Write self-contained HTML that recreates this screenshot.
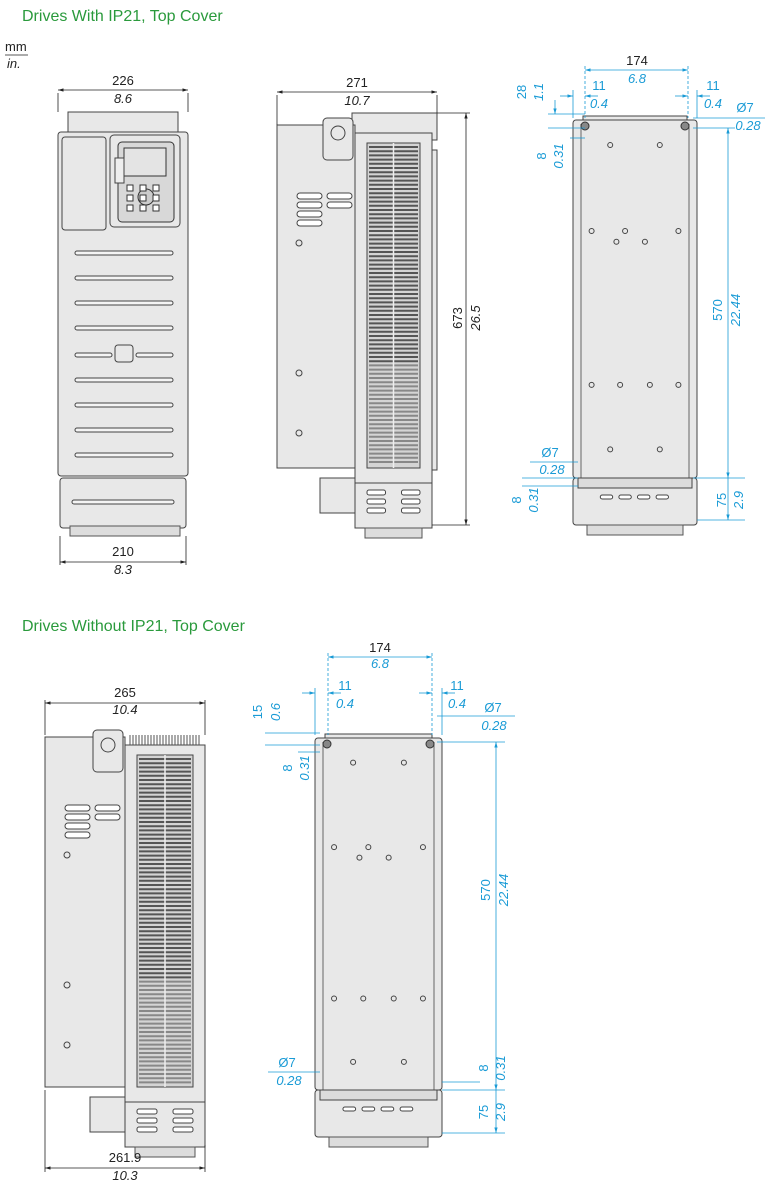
<!DOCTYPE html>
<html><head><meta charset="utf-8"><style>
html,body{margin:0;padding:0;background:#fff;}
svg{display:block;font-family:"Liberation Sans",sans-serif;}
.t{fill:#2a9a3c;font-size:16px;}
.d{fill:#222;font-size:13px;}
.b{fill:#1a9bd6;font-size:13px;}
.i{font-style:italic;}
.ln{stroke:#222;stroke-width:.8;fill:none;}
.bl{stroke:#1a9bd6;stroke-width:.8;fill:none;}
.p{fill:#e8e8e8;stroke:#444;stroke-width:1;}
.p2{fill:#dcdcdc;stroke:#444;stroke-width:1;}
.k{fill:none;stroke:#444;stroke-width:1;}
</style></head><body>
<svg id="s" width="770" height="1200" viewBox="0 0 770 1200">
<defs>
<marker id="a" viewBox="0 0 10 10" refX="10" refY="5" markerWidth="7" markerHeight="7" orient="auto-start-reverse"><path d="M0,2 L10,5 L0,8z" fill="#222"/></marker>
<marker id="ab" viewBox="0 0 10 10" refX="10" refY="5" markerWidth="7" markerHeight="7" orient="auto-start-reverse"><path d="M0,2 L10,5 L0,8z" fill="#1a9bd6"/></marker>
</defs>
<text class="t" x="22" y="21">Drives With IP21, Top Cover</text>
<text class="t" x="22" y="631">Drives Without IP21, Top Cover</text>
<text class="d" x="5" y="51">mm</text><line class="ln" x1="5" y1="55" x2="28" y2="55"/><text class="d i" x="7" y="68">in.</text>

<!-- FRONT VIEW -->
<rect class="p" x="68" y="112" width="110" height="24"/>
<rect class="p" x="58" y="132" width="130" height="344" rx="3"/>
<rect class="p" x="62" y="137" width="44" height="93" rx="3"/>
<rect class="p" x="110" y="135" width="70" height="92" rx="4"/>
<rect x="118" y="142" width="56" height="80" rx="4" fill="#d8d8d8" stroke="#333"/>
<rect x="124" y="148" width="42" height="28" fill="#e4e4e4" stroke="#333"/>
<circle cx="146" cy="197" r="8" fill="#ccc" stroke="#333"/>
<rect x="115" y="158" width="9" height="25" fill="#eee" stroke="#444"/>
<rect x="60" y="478" width="126" height="50" class="p" rx="3"/>
<rect x="115" y="345" width="18" height="17" rx="3" class="p"/>
<g id="frontslots"></g>
<rect x="70" y="526" width="110" height="10" fill="#ddd" stroke="#555"/>
<line class="ln" x1="58" y1="90" x2="188" y2="90" marker-start="url(#a)" marker-end="url(#a)"/>
<line class="ln" x1="58" y1="93" x2="58" y2="112"/><line class="ln" x1="188" y1="93" x2="188" y2="112"/>
<text class="d" x="123" y="85" text-anchor="middle">226</text><text class="d i" x="123" y="103" text-anchor="middle">8.6</text>
<line class="ln" x1="60" y1="562" x2="186" y2="562" marker-start="url(#a)" marker-end="url(#a)"/>
<line class="ln" x1="60" y1="536" x2="60" y2="565"/><line class="ln" x1="186" y1="536" x2="186" y2="565"/>
<text class="d" x="123" y="556" text-anchor="middle">210</text><text class="d i" x="123" y="574" text-anchor="middle">8.3</text>

<!-- SIDE VIEW 1 -->
<g id="side1"></g>
<line class="ln" x1="277" y1="92" x2="437" y2="92" marker-start="url(#a)" marker-end="url(#a)"/>
<line class="ln" x1="277" y1="95" x2="277" y2="125"/><line class="ln" x1="437" y1="95" x2="437" y2="113"/>
<text class="d" x="357" y="87" text-anchor="middle">271</text><text class="d i" x="357" y="105" text-anchor="middle">10.7</text>
<line class="ln" x1="466" y1="113" x2="466" y2="525" marker-start="url(#a)" marker-end="url(#a)"/>
<line class="ln" x1="437" y1="113" x2="470" y2="113"/><line class="ln" x1="432" y1="525" x2="470" y2="525"/>
<text class="d" transform="translate(462,318) rotate(-90)" text-anchor="middle">673</text>
<text class="d i" transform="translate(480,318) rotate(-90)" text-anchor="middle">26.5</text>

<!-- BACK VIEW 1 -->
<g id="back1"></g>
<line class="bl" x1="585" y1="70" x2="688" y2="70" marker-start="url(#ab)" marker-end="url(#ab)"/>
<line class="bl" x1="585" y1="66" x2="585" y2="118" stroke-dasharray="3,2"/><line class="bl" x1="688" y1="66" x2="688" y2="118" stroke-dasharray="3,2"/>
<text class="d" x="637" y="65" text-anchor="middle">174</text><text class="b i" x="637" y="83" text-anchor="middle">6.8</text>
<line class="bl" x1="560" y1="96" x2="573" y2="96" marker-end="url(#ab)"/><line class="bl" x1="598" y1="96" x2="585" y2="96" marker-end="url(#ab)"/>
<line class="bl" x1="573" y1="90" x2="573" y2="118"/>
<text class="b" x="599" y="90" text-anchor="middle">11</text><text class="b i" x="599" y="108" text-anchor="middle">0.4</text>
<line class="bl" x1="675" y1="96" x2="688" y2="96" marker-end="url(#ab)"/><line class="bl" x1="710" y1="96" x2="697" y2="96" marker-end="url(#ab)"/>
<line class="bl" x1="697" y1="90" x2="697" y2="118"/>
<text class="b" x="713" y="90" text-anchor="middle">11</text><text class="b i" x="713" y="108" text-anchor="middle">0.4</text>
<text class="b" transform="translate(526,92) rotate(-90)" text-anchor="middle">28</text><text class="b i" transform="translate(543,92) rotate(-90)" text-anchor="middle">1.1</text>
<line class="bl" x1="548" y1="114" x2="585" y2="114"/><line class="bl" x1="548" y1="128" x2="585" y2="128"/>
<line class="bl" x1="555" y1="100" x2="555" y2="114" marker-end="url(#ab)"/>
<text class="b" transform="translate(546,156) rotate(-90)" text-anchor="middle">8</text><text class="b i" transform="translate(563,156) rotate(-90)" text-anchor="middle">0.31</text>
<line class="bl" x1="570" y1="138" x2="585" y2="138"/>
<text class="b" x="745" y="112" text-anchor="middle">Ø7</text><line class="bl" x1="693" y1="118" x2="765" y2="118"/><text class="b i" x="748" y="130" text-anchor="middle">0.28</text>
<line class="bl" x1="728" y1="128" x2="728" y2="478" marker-start="url(#ab)" marker-end="url(#ab)"/>
<line class="bl" x1="693" y1="128" x2="735" y2="128"/><line class="bl" x1="693" y1="478" x2="745" y2="478"/>
<line class="bl" x1="728" y1="478" x2="728" y2="520" marker-end="url(#ab)"/><line class="bl" x1="697" y1="520" x2="745" y2="520"/>
<text class="b" transform="translate(722,310) rotate(-90)" text-anchor="middle">570</text><text class="b i" transform="translate(740,310) rotate(-90)" text-anchor="middle">22.44</text>
<text class="b" transform="translate(726,500) rotate(-90)" text-anchor="middle">75</text><text class="b i" transform="translate(743,500) rotate(-90)" text-anchor="middle">2.9</text>
<text class="b" x="550" y="457" text-anchor="middle">Ø7</text><line class="bl" x1="530" y1="462" x2="578" y2="462"/><text class="b i" x="552" y="474" text-anchor="middle">0.28</text>
<text class="b" transform="translate(521,500) rotate(-90)" text-anchor="middle">8</text><text class="b i" transform="translate(538,500) rotate(-90)" text-anchor="middle">0.31</text>
<line class="bl" x1="522" y1="478" x2="578" y2="478"/><line class="bl" x1="522" y1="486" x2="578" y2="486"/>

<!-- SIDE VIEW 2 -->
<g id="side2"></g>
<line class="ln" x1="45" y1="703" x2="205" y2="703" marker-start="url(#a)" marker-end="url(#a)"/>
<line class="ln" x1="45" y1="700" x2="45" y2="735"/><line class="ln" x1="205" y1="700" x2="205" y2="735"/>
<text class="d" x="125" y="697" text-anchor="middle">265</text><text class="d i" x="125" y="714" text-anchor="middle">10.4</text>
<line class="ln" x1="45" y1="1168" x2="205" y2="1168" marker-start="url(#a)" marker-end="url(#a)"/>
<line class="ln" x1="45" y1="1090" x2="45" y2="1172"/><line class="ln" x1="205" y1="1145" x2="205" y2="1172"/>
<text class="d" x="125" y="1162" text-anchor="middle">261.9</text><text class="d i" x="125" y="1180" text-anchor="middle">10.3</text>

<!-- BACK VIEW 2 -->
<g id="back2"></g>
<line class="bl" x1="328" y1="657" x2="432" y2="657" marker-start="url(#ab)" marker-end="url(#ab)"/>
<line class="bl" x1="328" y1="653" x2="328" y2="735" stroke-dasharray="3,2"/><line class="bl" x1="432" y1="653" x2="432" y2="735" stroke-dasharray="3,2"/>
<text class="d" x="380" y="652" text-anchor="middle">174</text><text class="b i" x="380" y="668" text-anchor="middle">6.8</text>
<line class="bl" x1="302" y1="693" x2="315" y2="693" marker-end="url(#ab)"/><line class="bl" x1="341" y1="693" x2="328" y2="693" marker-end="url(#ab)"/>
<line class="bl" x1="315" y1="688" x2="315" y2="735"/>
<text class="b" x="345" y="690" text-anchor="middle">11</text><text class="b i" x="345" y="708" text-anchor="middle">0.4</text>
<line class="bl" x1="419" y1="693" x2="432" y2="693" marker-end="url(#ab)"/><line class="bl" x1="455" y1="693" x2="442" y2="693" marker-end="url(#ab)"/>
<line class="bl" x1="442" y1="688" x2="442" y2="735"/>
<text class="b" x="457" y="690" text-anchor="middle">11</text><text class="b i" x="457" y="708" text-anchor="middle">0.4</text>
<text class="b" transform="translate(262,712) rotate(-90)" text-anchor="middle">15</text><text class="b i" transform="translate(280,712) rotate(-90)" text-anchor="middle">0.6</text>
<line class="bl" x1="265" y1="733" x2="320" y2="733"/><line class="bl" x1="265" y1="745" x2="320" y2="745"/>
<text class="b" transform="translate(292,768) rotate(-90)" text-anchor="middle">8</text><text class="b i" transform="translate(309,768) rotate(-90)" text-anchor="middle">0.31</text>
<line class="bl" x1="298" y1="752" x2="320" y2="752"/>
<text class="b" x="493" y="712" text-anchor="middle">Ø7</text><line class="bl" x1="437" y1="716" x2="515" y2="716"/><text class="b i" x="494" y="730" text-anchor="middle">0.28</text>
<line class="bl" x1="496" y1="742" x2="496" y2="1090" marker-start="url(#ab)" marker-end="url(#ab)"/>
<line class="bl" x1="437" y1="742" x2="505" y2="742"/><line class="bl" x1="442" y1="1090" x2="505" y2="1090"/>
<line class="bl" x1="496" y1="1090" x2="496" y2="1133" marker-end="url(#ab)"/><line class="bl" x1="442" y1="1133" x2="505" y2="1133"/>
<text class="b" transform="translate(490,890) rotate(-90)" text-anchor="middle">570</text><text class="b i" transform="translate(508,890) rotate(-90)" text-anchor="middle">22.44</text>
<text class="b" transform="translate(488,1068) rotate(-90)" text-anchor="middle">8</text><text class="b i" transform="translate(505,1068) rotate(-90)" text-anchor="middle">0.31</text>
<line class="bl" x1="442" y1="1082" x2="480" y2="1082"/>
<text class="b" transform="translate(488,1112) rotate(-90)" text-anchor="middle">75</text><text class="b i" transform="translate(505,1112) rotate(-90)" text-anchor="middle">2.9</text>
<text class="b" x="287" y="1067" text-anchor="middle">Ø7</text><line class="bl" x1="268" y1="1072" x2="320" y2="1072"/><text class="b i" x="289" y="1085" text-anchor="middle">0.28</text>
</svg>
<script>
var NS="http://www.w3.org/2000/svg";
function el(p,t,a){var e=document.createElementNS(NS,t);for(var k in a)e.setAttribute(k,a[k]);document.getElementById(p).appendChild(e);return e;}
// front slots
[253,278,303,328,380,405,430,455].forEach(function(y){el("frontslots","rect",{x:75,y:y-2,width:98,height:4,rx:2,fill:"#f4f4f4",stroke:"#444"});});
[355].forEach(function(y){el("frontslots","rect",{x:75,y:y-2,width:37,height:4,rx:2,fill:"#f4f4f4",stroke:"#444"});el("frontslots","rect",{x:136,y:y-2,width:37,height:4,rx:2,fill:"#f4f4f4",stroke:"#444"});});
el("frontslots","rect",{x:72,y:500,width:102,height:4,rx:2,fill:"#f4f4f4",stroke:"#444"});
for(var r=0;r<3;r++)for(var c=0;c<3;c++)el("frontslots","rect",{x:127+c*13,y:185+r*10,width:6,height:6,fill:"#fff",stroke:"#333"});
function side(g,x0,y0,h,hx,hw){
 // x0 left edge of panel, hx heatsink x
 el(g,"rect",{x:x0,y:y0+12,width:hx-x0,height:h-12,"class":"p"});
 el(g,"rect",{x:hx-32,y:y0+5,width:30,height:42,rx:4,"class":"p"});
 el(g,"circle",{cx:hx-17,cy:y0+20,r:7,"class":"k"});
 el(g,"rect",{x:hx,y:y0+20,width:hw,height:h-5,"class":"p"});
 el(g,"rect",{x:hx+12,y:y0+30,width:hw-24,height:h-30,fill:"#d4d4d4",stroke:"#444"});
 for(var y=y0+34;y<y0+h-2;y+=4.2){el(g,"line",{x1:hx+14,y1:y,x2:hx+hw-14,y2:y,stroke:(y<y0+h*0.7?"#555":"#888"),"stroke-width":2});}
 el(g,"line",{x1:hx+hw/2,y1:y0+30,x2:hx+hw/2,y2:y0+h,stroke:"#eee","stroke-width":1.5});
 el(g,"rect",{x:hx,y:y0+h+15,width:hw,height:45,"class":"p"});
 for(var r=0;r<3;r++)for(var c=0;c<2;c++)el(g,"rect",{x:hx+12+c*(hw/2-4),y:y0+h+22+r*9,width:hw/2-20,height:5,rx:2,fill:"#fff",stroke:"#444"});
 el(g,"rect",{x:hx+10,y:y0+h+60,width:hw-20,height:10,fill:"#ddd",stroke:"#555"});
 for(var i=0;i<4;i++){el(g,"rect",{x:x0+20,y:y0+80+i*9,width:25,height:6,rx:3,fill:"#fff",stroke:"#444"});if(i<2)el(g,"rect",{x:x0+50,y:y0+80+i*9,width:25,height:6,rx:3,fill:"#fff",stroke:"#444"});}
 el(g,"circle",{cx:x0+22,cy:y0+130,r:3,"class":"k"});
 el(g,"circle",{cx:x0+22,cy:y0+260,r:3,"class":"k"});
 el(g,"circle",{cx:x0+22,cy:y0+320,r:3,"class":"k"});
 el(g,"rect",{x:hx-35,y:y0+h+10,width:35,height:35,"class":"p"});
}
function cover(g,x,y,w){el(g,"rect",{x:x,y:y,width:w,height:27,"class":"p"});for(var i=x+4;i<x+w-4;i+=3)el(g,"line",{x1:i,y1:y+22,x2:i,y2:y+27,stroke:"#555"});}
cover("side1",352,113,85);
side("side1",277,113,355,355,77);
el("side1","rect",{x:432,y:150,width:5,height:320,"class":"p"});
side("side2",45,725,362,125,80);
for(var i=130;i<200;i+=3)el("side2","line",{x1:i,y1:735,x2:i,y2:745,stroke:"#555"});
function back(g,x,y,w,h){
 el(g,"rect",{x:x+10,y:y-4,width:w-20,height:8,"class":"p"});
 el(g,"rect",{x:x,y:y,width:w,height:h,rx:3,"class":"p"});
 el(g,"line",{x1:x+8,y1:y+4,x2:x+8,y2:y+h,stroke:"#666"});el(g,"line",{x1:x+w-8,y1:y+4,x2:x+w-8,y2:y+h,stroke:"#666"});
 el(g,"circle",{cx:x+12,cy:y+6,r:4,fill:"#888",stroke:"#333"});el(g,"circle",{cx:x+w-12,cy:y+6,r:4,fill:"#888",stroke:"#333"});
 var hs=[[.3,.07],[.7,.07],[.15,.31],[.35,.34],[.58,.34],[.85,.31],[.42,.31],[.15,.74],[.38,.74],[.62,.74],[.85,.74],[.3,.92],[.7,.92]];
 hs.forEach(function(p){el(g,"circle",{cx:x+p[0]*w,cy:y+p[1]*h,r:2.5,"class":"k"});});
 el(g,"rect",{x:x,y:y+h,width:w,height:47,rx:3,"class":"p"});
 el(g,"rect",{x:x+5,y:y+h,width:w-10,height:10,"class":"p2"});
 for(var i=0;i<4;i++)el(g,"rect",{x:x+w*0.22+i*w*0.15,y:y+h+17,width:w*0.1,height:4,rx:2,fill:"#fff",stroke:"#444"});
 el(g,"rect",{x:x+14,y:y+h+47,width:w-28,height:10,fill:"#ddd",stroke:"#555"});
}
back("back1",573,120,124,358);
back("back2",315,738,127,352);
</script>
</body></html>
